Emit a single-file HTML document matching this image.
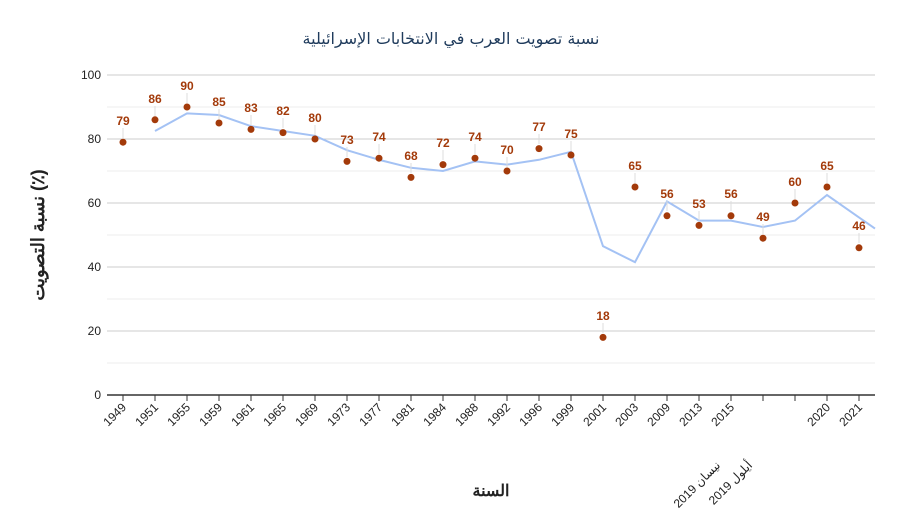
<!DOCTYPE html>
<html><head><meta charset="utf-8"><style>
body{margin:0;background:#fff;}
svg{display:block;font-family:"Liberation Sans","Noto Sans CJK SC",sans-serif;}
.lb{font-size:12px;font-weight:bold;fill:#a33a0a;text-anchor:middle;}
.xt{font-size:12px;fill:#222;text-anchor:end;}
</style></head><body>
<svg width="902" height="530" viewBox="0 0 902 530">
<rect width="902" height="530" fill="#fff"/>
<text x="451" y="44" font-size="16" fill="#1f3b5c" text-anchor="middle" font-family="'DejaVu Sans',sans-serif">نسبة تصويت العرب في الانتخابات الإسرائيلية</text>
<g stroke="#ececec" stroke-width="1">
<line x1="107" x2="875" y1="363" y2="363"/><line x1="107" x2="875" y1="299" y2="299"/><line x1="107" x2="875" y1="235" y2="235"/><line x1="107" x2="875" y1="171" y2="171"/><line x1="107" x2="875" y1="107" y2="107"/>
</g>
<g stroke="#cccccc" stroke-width="1">
<line x1="107" x2="875" y1="331" y2="331"/><line x1="107" x2="875" y1="267" y2="267"/><line x1="107" x2="875" y1="203" y2="203"/><line x1="107" x2="875" y1="139" y2="139"/><line x1="107" x2="875" y1="75" y2="75"/>
</g>
<g font-size="12" fill="#222" text-anchor="end">
<text x="101" y="399">0</text><text x="101" y="335">20</text><text x="101" y="271">40</text><text x="101" y="207">60</text><text x="101" y="143">80</text><text x="101" y="79">100</text>
</g>
<line x1="107" x2="875" y1="395" y2="395" stroke="#333" stroke-width="1.5"/>
<g stroke="#333" stroke-width="1">
<line x1="123" x2="123" y1="395" y2="401"/><line x1="155" x2="155" y1="395" y2="401"/><line x1="187" x2="187" y1="395" y2="401"/><line x1="219" x2="219" y1="395" y2="401"/><line x1="251" x2="251" y1="395" y2="401"/><line x1="283" x2="283" y1="395" y2="401"/><line x1="315" x2="315" y1="395" y2="401"/><line x1="347" x2="347" y1="395" y2="401"/><line x1="379" x2="379" y1="395" y2="401"/><line x1="411" x2="411" y1="395" y2="401"/><line x1="443" x2="443" y1="395" y2="401"/><line x1="475" x2="475" y1="395" y2="401"/><line x1="507" x2="507" y1="395" y2="401"/><line x1="539" x2="539" y1="395" y2="401"/><line x1="571" x2="571" y1="395" y2="401"/><line x1="603" x2="603" y1="395" y2="401"/><line x1="635" x2="635" y1="395" y2="401"/><line x1="667" x2="667" y1="395" y2="401"/><line x1="699" x2="699" y1="395" y2="401"/><line x1="731" x2="731" y1="395" y2="401"/><line x1="763" x2="763" y1="395" y2="401"/><line x1="795" x2="795" y1="395" y2="401"/><line x1="827" x2="827" y1="395" y2="401"/><line x1="859" x2="859" y1="395" y2="401"/>
</g>
<g class="xt">
<text transform="translate(127,408) rotate(-45)">1949</text>
<text transform="translate(159,408) rotate(-45)">1951</text>
<text transform="translate(191,408) rotate(-45)">1955</text>
<text transform="translate(223,408) rotate(-45)">1959</text>
<text transform="translate(255,408) rotate(-45)">1961</text>
<text transform="translate(287,408) rotate(-45)">1965</text>
<text transform="translate(319,408) rotate(-45)">1969</text>
<text transform="translate(351,408) rotate(-45)">1973</text>
<text transform="translate(383,408) rotate(-45)">1977</text>
<text transform="translate(415,408) rotate(-45)">1981</text>
<text transform="translate(447,408) rotate(-45)">1984</text>
<text transform="translate(479,408) rotate(-45)">1988</text>
<text transform="translate(511,408) rotate(-45)">1992</text>
<text transform="translate(543,408) rotate(-45)">1996</text>
<text transform="translate(575,408) rotate(-45)">1999</text>
<text transform="translate(607,408) rotate(-45)">2001</text>
<text transform="translate(639,408) rotate(-45)">2003</text>
<text transform="translate(671,408) rotate(-45)">2009</text>
<text transform="translate(703,408) rotate(-45)">2013</text>
<text transform="translate(735,408) rotate(-45)">2015</text>
<text transform="translate(721,466) rotate(-45)">2019 نيسان</text>
<text transform="translate(753,466) rotate(-45)">2019 أيلول</text>
<text transform="translate(831,408) rotate(-45)">2020</text>
<text transform="translate(863,408) rotate(-45)">2021</text>
</g>
<polyline fill="none" stroke="#a4c2f4" stroke-width="2" points="155,131 187,113.4 219,115 251,126.2 283,131 315,135.8 347,150.2 379,159.8 411,167.8 443,171 475,161.4 507,164.6 539,159.8 571,151.8 603,246.2 635,262.2 667,201.4 699,220.6 731,220.6 763,227 795,220.6 827,195 859,217.4 875,228.6"/>
<g stroke="#ddd" stroke-width="1">
<line x1="123" x2="123" y1="128" y2="138"/><line x1="155" x2="155" y1="106" y2="116"/><line x1="187" x2="187" y1="93" y2="103"/><line x1="219" x2="219" y1="109" y2="119"/><line x1="251" x2="251" y1="115" y2="125"/><line x1="283" x2="283" y1="118" y2="128"/><line x1="315" x2="315" y1="125" y2="135"/><line x1="347" x2="347" y1="147" y2="157"/><line x1="379" x2="379" y1="144" y2="154"/><line x1="411" x2="411" y1="163" y2="173"/><line x1="443" x2="443" y1="150" y2="160"/><line x1="475" x2="475" y1="144" y2="154"/><line x1="507" x2="507" y1="157" y2="167"/><line x1="539" x2="539" y1="134" y2="144"/><line x1="571" x2="571" y1="141" y2="151"/><line x1="603" x2="603" y1="323" y2="333"/><line x1="635" x2="635" y1="173" y2="183"/><line x1="667" x2="667" y1="201" y2="211"/><line x1="699" x2="699" y1="211" y2="221"/><line x1="731" x2="731" y1="201" y2="211"/><line x1="763" x2="763" y1="224" y2="234"/><line x1="795" x2="795" y1="189" y2="199"/><line x1="827" x2="827" y1="173" y2="183"/><line x1="859" x2="859" y1="233" y2="243"/>
</g>
<g fill="#a33a0a">
<circle cx="123" cy="142.2" r="3.5"/><circle cx="155" cy="119.8" r="3.5"/><circle cx="187" cy="107" r="3.5"/><circle cx="219" cy="123" r="3.5"/><circle cx="251" cy="129.4" r="3.5"/><circle cx="283" cy="132.6" r="3.5"/><circle cx="315" cy="139" r="3.5"/><circle cx="347" cy="161.4" r="3.5"/><circle cx="379" cy="158.2" r="3.5"/><circle cx="411" cy="177.4" r="3.5"/><circle cx="443" cy="164.6" r="3.5"/><circle cx="475" cy="158.2" r="3.5"/><circle cx="507" cy="171" r="3.5"/><circle cx="539" cy="148.6" r="3.5"/><circle cx="571" cy="155" r="3.5"/><circle cx="603" cy="337.4" r="3.5"/><circle cx="635" cy="187" r="3.5"/><circle cx="667" cy="215.8" r="3.5"/><circle cx="699" cy="225.4" r="3.5"/><circle cx="731" cy="215.8" r="3.5"/><circle cx="763" cy="238.2" r="3.5"/><circle cx="795" cy="203" r="3.5"/><circle cx="827" cy="187" r="3.5"/><circle cx="859" cy="247.8" r="3.5"/>
</g>
<g class="lb">
<text x="123" y="125">79</text><text x="155" y="103">86</text><text x="187" y="90">90</text><text x="219" y="106">85</text><text x="251" y="112">83</text><text x="283" y="115">82</text><text x="315" y="122">80</text><text x="347" y="144">73</text><text x="379" y="141">74</text><text x="411" y="160">68</text><text x="443" y="147">72</text><text x="475" y="141">74</text><text x="507" y="154">70</text><text x="539" y="131">77</text><text x="571" y="138">75</text><text x="603" y="320">18</text><text x="635" y="170">65</text><text x="667" y="198">56</text><text x="699" y="208">53</text><text x="731" y="198">56</text><text x="763" y="221">49</text><text x="795" y="186">60</text><text x="827" y="170">65</text><text x="859" y="230">46</text>
</g>
<text x="491" y="496" font-size="16" font-weight="bold" fill="#222" text-anchor="middle">السنة</text>
<text transform="translate(44,235) rotate(-90)" font-size="18" font-weight="bold" fill="#222" text-anchor="middle">نسبة التصويت (٪)</text>
</svg>
</body></html>
